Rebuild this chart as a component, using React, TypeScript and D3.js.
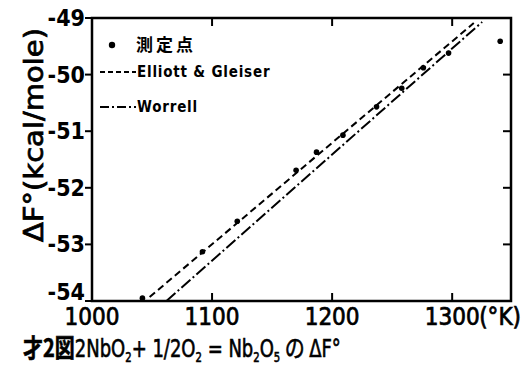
import React from 'react';
import * as d3 from 'd3';

// measured points (T in K, ΔF° in kcal/mole)
const measuredT = [1042, 1092, 1121, 1170, 1187, 1209, 1237, 1258, 1276, 1297, 1340];
const measuredF = [-53.95, -53.13, -52.59, -51.69, -51.37, -51.07, -50.57, -50.24, -49.88, -49.62, -49.41];

// literature lines (end points)
const elliottT = [1048, 1318];
const elliottF = [-53.93, -49.09];
const worrellT = [1062, 1325];
const worrellF = [-54.0, -49.07];

const xTicks = [1000, 1100, 1200, 1300];
const yTicks = [-49, -50, -51, -52, -53, -54];

export default function App() {
  const width = 526;
  const height = 365;
  const left = 92, right = 511, top = 18, bottom = 301;

  const x = d3.scaleLinear().domain([1000, 1349]).range([left, right]);
  const y = d3.scaleLinear().domain([-54, -49]).range([bottom, top]);

  const path = (ts: number[], fs: number[]) =>
    d3.line<number>().x(d => x(d)).y((_, i) => y(fs[i]))(ts) || '';

  const font = '"DejaVu Sans Condensed", "DejaVu Sans", sans-serif';
  const cjk = '"Noto Sans CJK JP", sans-serif';
  const ink = '#000';

  return (
    <svg width={width} height={height} style={{ position: 'absolute', left: 0, top: 0, background: '#fff' }}
      fontFamily={font}>
      <rect x={0} y={0} width={width} height={height} fill="#fff" />

      {/* frame */}
      <rect x={left} y={top} width={right - left} height={bottom - top} fill="none" stroke={ink} strokeWidth={2.5} />

      {/* y ticks: outward on left, inward on right */}
      {yTicks.map(t => (
        <g key={t}>
          <line x1={left - 7} x2={left} y1={y(t)} y2={y(t)} stroke={ink} strokeWidth={2} />
          {t !== -49 && t !== -54 && (
            <line x1={right - 8} x2={right} y1={y(t)} y2={y(t)} stroke={ink} strokeWidth={2} />
          )}
          <text x={left - 7} y={y(t) + (t === -54 ? -1 : 8)} textAnchor="end" fontSize={23} fontWeight="bold" fill={ink}>
            {'-' + Math.abs(t)}
          </text>
        </g>
      ))}

      {/* x ticks: inward top and bottom */}
      {xTicks.map(t => (
        <g key={t}>
          {t !== 1000 && (
            <>
              <line x1={x(t)} x2={x(t)} y1={bottom} y2={bottom - 8} stroke={ink} strokeWidth={2} />
              <line x1={x(t)} x2={x(t)} y1={top} y2={top + 8} stroke={ink} strokeWidth={2} />
            </>
          )}
          <text x={x(t)} y={325} textAnchor="middle" fontSize={24} fill={ink} stroke={ink} strokeWidth={0.7}>
            {t}
          </text>
        </g>
      ))}
      <text x={x(1300) + 27} y={325} fontSize={24} fill={ink} stroke={ink} strokeWidth={0.7}>(°K)</text>

      {/* lines */}
      <path d={path(elliottT, elliottF)} fill="none" stroke={ink} strokeWidth={2} strokeDasharray="7,4" />
      <path d={path(worrellT, worrellF)} fill="none" stroke={ink} strokeWidth={2} strokeDasharray="12,3,2,3" />

      {/* measured points */}
      {measuredT.map((t, i) => (
        <circle key={i} cx={x(t)} cy={y(measuredF[i])} r={2.8} fill={ink} />
      ))}

      {/* legend */}
      <circle cx={112} cy={45} r={3.2} fill={ink} />
      <text x={136} y={51} fontSize={17} fontWeight="bold" fontFamily={cjk} letterSpacing={3} fill={ink}>測定点</text>
      <line x1={100} x2={136} y1={72} y2={72} stroke={ink} strokeWidth={2} strokeDasharray="5,3" />
      <text x={137} y={77} fontSize={15} fontWeight="bold" letterSpacing={0.8} fill={ink}>Elliott &amp; Gleiser</text>
      <line x1={100} x2={136} y1={107} y2={107} stroke={ink} strokeWidth={2} strokeDasharray="9,3,2,3" />
      <text x={137} y={112} fontSize={15} fontWeight="bold" letterSpacing={0.8} fill={ink}>Worrell</text>

      {/* y axis label */}
      <text transform="translate(43,135) rotate(-90)" textAnchor="middle" fontSize={26} fill={ink} stroke={ink}
        strokeWidth={0.7} textLength={214} lengthAdjust="spacingAndGlyphs">
        ΔF°(kcal/mole)
      </text>

      {/* caption */}
      <g transform="translate(23,357) scale(0.8,1)">
        <text x={0} y={0} fontSize={25} fill={ink} stroke={ink} strokeWidth={0.6}>
          <tspan fontFamily={cjk} fontWeight="bold">才2図</tspan>
          <tspan>2NbO</tspan><tspan fontSize={14} dy={5}>2</tspan>
          <tspan dy={-5}>+ 1/2O</tspan><tspan fontSize={14} dy={5}>2</tspan>
          <tspan dy={-5}> = Nb</tspan><tspan fontSize={14} dy={5}>2</tspan>
          <tspan dy={-5}>O</tspan><tspan fontSize={14} dy={5}>5</tspan>
          <tspan dy={-5} fontFamily={cjk}> の </tspan>
          <tspan>ΔF°</tspan>
        </text>
      </g>
    </svg>
  );
}
